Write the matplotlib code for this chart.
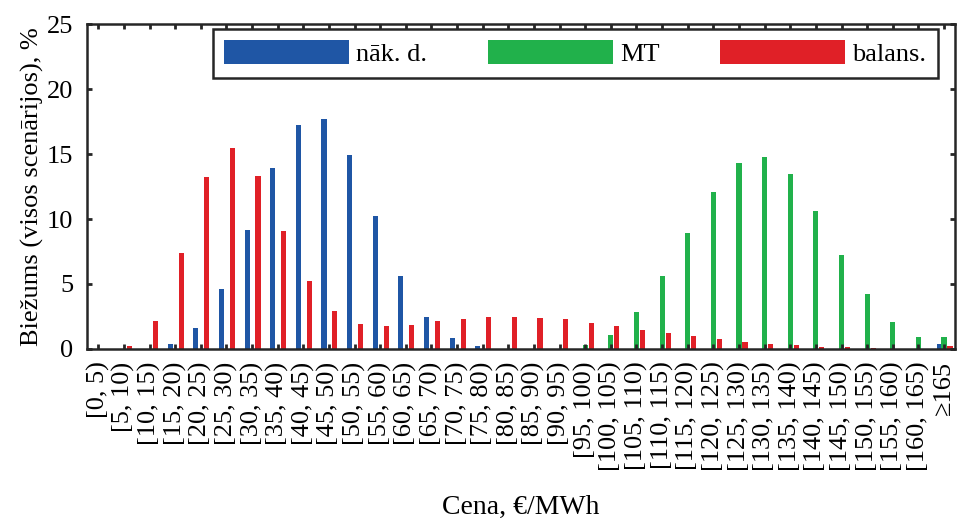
import matplotlib
matplotlib.use("Agg")
import matplotlib.pyplot as plt
import numpy as np

# Price bins, EUR/MWh
bins = ["[0, 5)", "[5, 10)", "[10, 15)", "[15, 20)", "[20, 25)", "[25, 30)",
        "[30, 35)", "[35, 40)", "[40, 45)", "[45, 50)", "[50, 55)", "[55, 60)",
        "[60, 65)", "[65, 70)", "[70, 75)", "[75, 80)", "[80, 85)", "[85, 90)",
        "[90, 95)", "[95, 100)", "[100, 105)", "[105, 110)", "[110, 115)",
        "[115, 120)", "[120, 125)", "[125, 130)", "[130, 135)", "[135, 140)",
        "[140, 145)", "[145, 150)", "[150, 155)", "[155, 160)", "[160, 165)",
        "\u2265165"]

# frequency, % (all scenarios)
nak_d = [0, 0, 0, 0.4, 1.6, 4.6, 9.15, 13.9, 17.25, 17.7, 14.9, 10.25,
         5.6, 2.45, 0.85, 0.23, 0, 0, 0, 0, 0, 0, 0,
         0, 0, 0, 0, 0, 0, 0, 0, 0, 0, 0.4]
mt = [0, 0, 0, 0, 0, 0, 0, 0, 0, 0, 0, 0,
      0, 0, 0, 0, 0, 0, 0, 0.3, 1.07, 2.85, 5.6,
      8.92, 12.08, 14.3, 14.77, 13.46, 10.6, 7.23, 4.23, 2.08, 0.92, 0.92]
balans = [0, 0.23, 2.15, 7.38, 13.25, 15.46, 13.3, 9.08, 5.23, 2.92, 1.92, 1.8,
          1.85, 2.15, 2.3, 2.46, 2.46, 2.4, 2.3, 2.0, 1.77, 1.46, 1.23,
          1.0, 0.77, 0.54, 0.38, 0.3, 0.15, 0.15, 0.05, 0, 0, 0.23]

BLUE = "#1f56a5"
GREEN = "#21b14b"
RED = "#e02027"
DARK = "#262626"

plt.rcParams['font.family'] = ['Liberation Serif', 'DejaVu Serif']

fig = plt.figure(figsize=(9.61, 5.23), dpi=100)
ax = fig.add_axes([0.0905, 0.3327, 0.9033, 0.6214])

x = np.arange(len(bins))
w = 0.2
ax.bar(x - 0.19, nak_d, w, color=BLUE, label="nāk. d.", zorder=1)
ax.bar(x, mt, w, color=GREEN, label="MT", zorder=1)
ax.bar(x + 0.235, balans, w, color=RED, label="balans.", zorder=1)

ax.set_xlim(-0.44, len(bins) - 1 + 0.43)
ax.set_ylim(0, 25)
ax.set_yticks([0, 5, 10, 15, 20, 25])
ax.set_xticks(x)
ax.set_xticklabels(bins, rotation=90, ha="center", va="top")

ax.tick_params(axis="x", direction="in", length=3.6, width=2.0, top=True,
               color=DARK, labelsize=19, pad=9)
ax.tick_params(axis="y", direction="in", length=3.6, width=2.0, right=True,
               color=DARK, labelsize=19, pad=10)
for s in ax.spines.values():
    s.set_linewidth(1.8)
    s.set_color(DARK)

ax.set_ylabel("Biežums (visos scenārijos), %", fontsize=19, labelpad=2)
ax.set_xlabel("Cena, €/MWh", fontsize=20, labelpad=17)

leg = ax.legend(ncol=3, loc="upper left", bbox_to_anchor=(0.145, 0.985),
                fontsize=19, handlelength=4.73, handleheight=1.02,
                handletextpad=0.27, columnspacing=2.3, borderpad=0.44,
                borderaxespad=0, fancybox=False, framealpha=1)
leg.get_frame().set_edgecolor(DARK)
leg.get_frame().set_linewidth(1.8)

fig.savefig("out.png", dpi=100)
